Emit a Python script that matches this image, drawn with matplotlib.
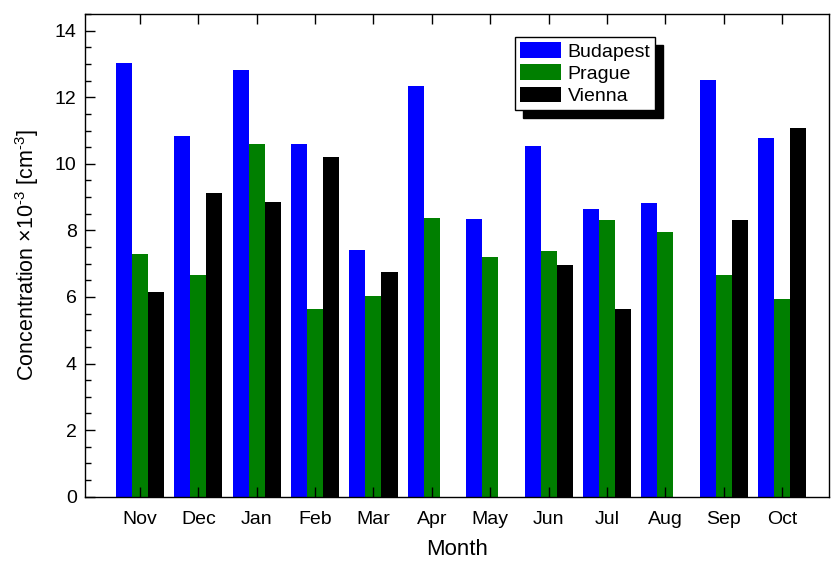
import numpy as np
import matplotlib
matplotlib.use("Agg")
import matplotlib.pyplot as plt
from matplotlib.ticker import MultipleLocator

plt.rcParams['font.family'] = ['Liberation Sans', 'DejaVu Sans']
plt.rcParams['mathtext.fontset'] = 'custom'
plt.rcParams['mathtext.rm'] = 'Liberation Sans'
plt.rcParams['mathtext.it'] = 'Liberation Sans:italic'

months = ['Nov', 'Dec', 'Jan', 'Feb', 'Mar', 'Apr', 'May', 'Jun', 'Jul', 'Aug', 'Sep', 'Oct']
budapest = [13.02, 10.83, 12.82, 10.59, 7.40, 12.33, 8.33, 10.53, 8.63, 8.82, 12.51, 10.77]
prague = [7.29, 6.66, 10.59, 5.63, 6.04, 8.38, 7.20, 7.37, 8.30, 7.95, 6.65, 5.95]
vienna = [6.15, 9.12, 8.85, 10.20, 6.75, np.nan, np.nan, 6.95, 5.65, np.nan, 8.30, 11.09]

fig = plt.figure(figsize=(8.31, 5.62), dpi=100)
ax = fig.add_axes([0.1023, 0.1162, 0.8953, 0.8588])

x = np.arange(len(months))
w = 0.274
ax.bar(x - w, budapest, w, color='#0000ff', label='Budapest')
ax.bar(x, prague, w, color='#007f00', label='Prague')
ax.bar(x + w, vienna, w, color='black', label='Vienna')

ax.set_xlim(-0.94, 11.80)
ax.set_ylim(0, 14.5)
ax.set_xticks(x)
ax.set_xticklabels(months)
ax.yaxis.set_major_locator(MultipleLocator(2))
ax.yaxis.set_minor_locator(MultipleLocator(0.5))
ax.tick_params(axis='both', which='major', direction='in', length=7, width=1,
               labelsize=14, top=True, bottom=True)
ax.tick_params(axis='y', which='minor', direction='in', length=4, width=1)
ax.tick_params(axis='x', pad=10)
ax.tick_params(axis='y', pad=6)
for s in ax.spines.values():
    s.set_linewidth(1.0)

ax.set_xlabel('Month', fontsize=16, labelpad=8)
ax.set_ylabel('Concentration \u00d710$^{\\text{-}3}$ [cm$^{\\text{-}3}$]', fontsize=15.5, labelpad=10)

leg = ax.legend(loc='upper left', bbox_to_anchor=(0.578, 0.952), borderaxespad=0,
                fontsize=14, fancybox=False, frameon=True, edgecolor='black',
                framealpha=1, handlelength=2.1, handleheight=0.85,
                handletextpad=0.35, labelspacing=0.2, borderpad=0.25,
                shadow={'ox': 5.5, 'oy': -5.5, 'color': 'black', 'alpha': 1})
leg.get_frame().set_linewidth(1.0)

fig.savefig('out.png', dpi=100)
